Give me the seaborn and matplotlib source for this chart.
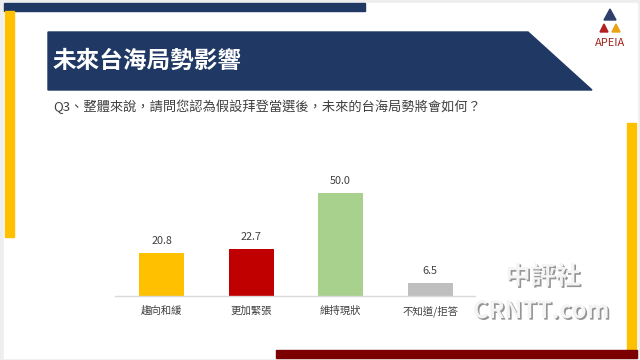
import matplotlib
matplotlib.use("Agg")
import matplotlib.pyplot as plt
import matplotlib.patches as mpatches
import matplotlib.patheffects as pe
import seaborn as sns
import pandas as pd

categories = ["趨向和緩", "更加緊張", "維持現狀", "不知道/拒答"]
values = [20.8, 22.7, 50.0, 6.5]
colors = ["#FFC000", "#C00000", "#A9D18E", "#BFBFBF"]
title = "未來台海局勢影響"
question = "Q3、整體來說，請問您認為假設拜登當選後，未來的台海局勢將會如何？"

sns.set_theme(style="white")
plt.rcParams['font.family'] = ['Noto Sans CJK TC', 'DejaVu Sans']

fig = plt.figure(figsize=(6.4, 3.6), dpi=100)
fig.patch.set_facecolor("#EEEEEE")

# decoration layer in pixel coordinates
bg = fig.add_axes([0, 0, 1, 1])
bg.set_xlim(0, 640)
bg.set_ylim(360, 0)
bg.axis("off")
bg.add_patch(mpatches.Rectangle((4, 3), 633, 355, color="white", zorder=0))
bg.add_patch(mpatches.Rectangle((4, 3), 361, 8, color="#1F3864", zorder=1))
bg.add_patch(mpatches.Rectangle((5, 11), 9, 226, color="#FFC000", zorder=1))
bg.add_patch(mpatches.Rectangle((627, 123), 9, 227, color="#FFC000", zorder=1))
bg.add_patch(mpatches.Rectangle((276, 350), 361, 8, color="#7B0000", zorder=1))
bg.add_patch(mpatches.Polygon([(48, 32), (528, 32), (592, 90), (48, 90)],
                              closed=True, color="#203864", zorder=1))
bg.text(53, 61, title, color="white", fontsize=17, fontweight="bold",
        va="center", ha="left", zorder=2)
bg.text(53, 107, question, color="#404040", fontsize=9.5,
        va="center", ha="left", zorder=2)

# logo
bg.add_patch(mpatches.Polygon([(610, 9), (604, 20), (616, 20)], closed=True,
                              color="#2F3F6B", zorder=2))
bg.add_patch(mpatches.Polygon([(600, 32), (604, 24), (608, 32)], closed=True,
                              color="#B22222", zorder=2))
bg.add_patch(mpatches.Polygon([(612, 32), (616, 24), (620, 32)], closed=True,
                              color="#E8A317", zorder=2))
bg.text(610, 43, "APEIA", color="#A3261E", fontsize=8, ha="center",
        va="center", zorder=2)

# watermark
wm_fx = [pe.withSimplePatchShadow(offset=(1.2, -1.2), shadow_rgbFace="#8A8A8A", alpha=0.9)]
bg.text(543, 277, "中評社", color="#F4F4F4", fontsize=18, fontweight="bold",
        ha="center", va="center", zorder=5, path_effects=wm_fx)
bg.text(541, 311, "CRNTT.com", color="#F4F4F4", fontsize=17, fontweight="bold",
        ha="center", va="center", zorder=5, path_effects=wm_fx)

# chart axes
ax = fig.add_axes([115 / 640, (360 - 296) / 360, 360 / 640, 123.6 / 360])
ax.patch.set_alpha(0)
df = pd.DataFrame({"category": categories, "value": values})
sns.barplot(data=df, x="category", y="value", hue="category",
            palette=colors, legend=False, width=0.5, ax=ax,
            saturation=1, edgecolor="none")
ax.set_xlim(-0.52, 3.5)
ax.set_ylim(0, 60)
for cont in ax.containers:
    ax.bar_label(cont, fmt="%.1f", padding=5, fontsize=7.8, color="#404040")
ax.set_xlabel("")
ax.set_ylabel("")
ax.set_yticks([])
ax.tick_params(axis="x", length=0, pad=7, labelsize=7.5, labelcolor="#404040")
for s in ["top", "left", "right"]:
    ax.spines[s].set_visible(False)
ax.spines["bottom"].set_color("#D9D9D9")
ax.spines["bottom"].set_linewidth(1)

fig.savefig("out.png", dpi=100, facecolor=fig.get_facecolor())
